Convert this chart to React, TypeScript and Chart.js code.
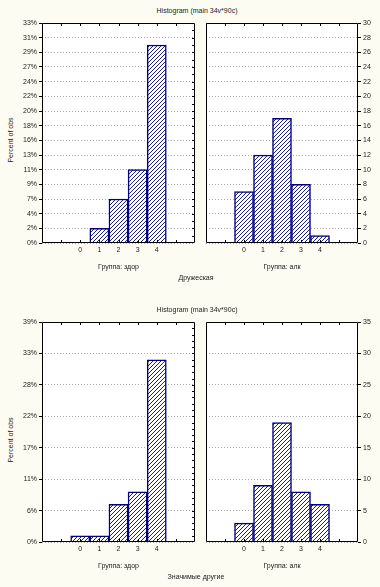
import React, { useEffect, useRef } from "react";
import { Chart, registerables } from "chart.js";

Chart.register(...registerables);

// ---- data ----
const bins = [0, 1, 2, 3, 4];
const friendlyHealthy = [0, 2, 6, 10, 27];
const friendlyAlc = [7, 12, 17, 8, 1];
const significantHealthy = [1, 1, 6, 8, 29];
const significantAlc = [3, 9, 19, 8, 6];
const totalObs = 90;
const topMax = 30;
const topStep = 2;
const bottomMax = 35;
const bottomStep = 5;
const chartTitle = "Histogram (main 34v*90c)";
const yAxisTitle = "Percent of obs";
const groupLabels = ["Группа: здор", "Группа: алк"];
const figureLabels = ["Дружеская", "Значимые другие"];
const xMin = -2;
const xMax = 6;

const FONT = "'Liberation Sans', Arial, sans-serif";
const TEXT = "#222";
const NAVY = "#000080";

function makeHatch(): CanvasPattern | string {
  const s = 4;
  const c = document.createElement("canvas");
  c.width = s;
  c.height = s;
  const g = c.getContext("2d");
  if (!g) return "#fff";
  g.fillStyle = "#fff";
  g.fillRect(0, 0, s, s);
  g.fillStyle = "#20208a";
  for (let i = 0; i < s; i++) g.fillRect(i, s - 1 - i, 1, 1);
  return g.createPattern(c, "repeat") || "#fff";
}

type PanelProps = {
  values: number[];
  side: "left" | "right";
  max: number;
  step: number;
  top: number;
  bottom: number;
};

const PAD_TOP = 8;
const X_AXIS_H = 30;

function Panel({ values, side, max, step, top, bottom }: PanelProps) {
  const ref = useRef<HTMLCanvasElement | null>(null);
  const canvasLeft = side === "left" ? 0 : 200;
  const canvasWidth = side === "left" ? 200 : 180;
  const canvasTop = top - PAD_TOP;
  const canvasHeight = bottom - top + PAD_TOP + X_AXIS_H;

  useEffect(() => {
    if (!ref.current) return;
    const hatch = makeHatch();
    const framePlugin = {
      id: "frame",
      beforeDraw(chart: any) {
        const { ctx, chartArea } = chart;
        ctx.save();
        ctx.fillStyle = "#ffffff";
        ctx.fillRect(chartArea.left, chartArea.top, chartArea.right - chartArea.left, chartArea.bottom - chartArea.top);
        ctx.restore();
      },
      afterDraw(chart: any) {
        const { ctx, chartArea, scales } = chart;
        const { left, right, top: t, bottom: b } = chartArea;
        ctx.save();
        ctx.strokeStyle = "#000";
        ctx.lineWidth = 1;
        ctx.beginPath();
        ctx.rect(left + 0.5, t + 0.5, right - left - 1, b - t - 1);
        ctx.stroke();
        ctx.beginPath();
        for (let v = xMin + 1; v < xMax; v++) {
          const px = Math.round(scales.x.getPixelForValue(v)) + 0.5;
          ctx.moveTo(px, t);
          ctx.lineTo(px, t + 3);
          ctx.moveTo(px, b);
          ctx.lineTo(px, b - 3);
        }
        if (side === "left") {
          for (let v = 1; v < max; v++) {
            const py = Math.round(scales.y.getPixelForValue(v)) + 0.5;
            ctx.moveTo(right, py);
            ctx.lineTo(right - 3, py);
          }
        }
        ctx.stroke();
        ctx.restore();
      },
    };

    const chart = new Chart(ref.current, {
      type: "bar",
      data: {
        datasets: [
          {
            data: bins.map((b, i) => ({ x: b, y: values[i] > 0 ? values[i] : null })) as any,
            backgroundColor: hatch as any,
            borderColor: NAVY,
            borderWidth: 1.5,
            barPercentage: 1,
            categoryPercentage: 1,
          },
        ],
      },
      options: {
        animation: false,
        responsive: false,
        maintainAspectRatio: false,
        devicePixelRatio: 1,
        layout: {
          padding: side === "left" ? { left: 0, right: 5, top: PAD_TOP, bottom: 0 } : { left: 6, right: 0, top: PAD_TOP, bottom: 0 },
        },
        plugins: { legend: { display: false }, tooltip: { enabled: false }, title: { display: false } },
        scales: {
          x: {
            type: "linear",
            min: xMin,
            max: xMax,
            offset: false,
            grid: { display: false, drawTicks: false },
            border: { display: false },
            ticks: {
              stepSize: 1,
              autoSkip: false,
              maxRotation: 0,
              padding: 3,
              color: TEXT,
              font: { family: FONT, size: 7 },
              callback: (v: any) => (bins.includes(Number(v)) ? String(v) : ""),
            },
            afterFit: (s: any) => {
              s.height = X_AXIS_H;
            },
          },
          y: {
            type: "linear",
            position: side,
            min: 0,
            max,
            grid: {
              color: "#a8a8a8",
              lineWidth: 1,
              drawTicks: true,
              tickLength: 3,
              tickColor: "#000",
              tickBorderDash: [],
            } as any,
            border: { display: false, dash: [1, 2] },
            ticks: {
              stepSize: step,
              padding: 2,
              color: TEXT,
              font: { family: FONT, size: 7 },
              callback: (v: any) => (side === "left" ? Math.round((Number(v) / totalObs) * 100) + "%" : String(v)),
            },
            afterFit: (s: any) => {
              s.width = side === "left" ? 42 : 22;
            },
          },
        },
      } as any,
      plugins: [framePlugin],
    });
    return () => chart.destroy();
  }, [values, side, max, step, top, bottom]);

  return (
    <canvas
      ref={ref}
      width={canvasWidth}
      height={canvasHeight}
      style={{ position: "absolute", left: canvasLeft, top: canvasTop, width: canvasWidth, height: canvasHeight }}
    />
  );
}

function Label({ text, x, y, rotate }: { text: string; x: number; y: number; rotate?: boolean }) {
  return (
    <div
      style={{
        position: "absolute",
        left: x,
        top: y,
        transform: `translate(-50%, -50%)${rotate ? " rotate(-90deg)" : ""}`,
        whiteSpace: "nowrap",
        fontFamily: FONT,
        fontSize: 7,
        color: TEXT,
        lineHeight: 1,
      }}
    >
      {text}
    </div>
  );
}

export default function App() {
  const figures = [
    { top: 23, bottom: 243, max: topMax, step: topStep, healthy: friendlyHealthy, alc: friendlyAlc, label: figureLabels[0], titleY: 10, yTitleY: 140, figLabelY: 277 },
    { top: 322, bottom: 542, max: bottomMax, step: bottomStep, healthy: significantHealthy, alc: significantAlc, label: figureLabels[1], titleY: 309, yTitleY: 440, figLabelY: 576 },
  ];
  return (
    <div style={{ position: "absolute", left: 0, top: 0, width: 380, height: 587, background: "#fcfcf3", overflow: "hidden" }}>
      {figures.map((f, i) => (
        <React.Fragment key={i}>
          <Label text={chartTitle} x={197} y={f.titleY} />
          <Label text={yAxisTitle} x={10} y={f.yTitleY} rotate />
          <Panel values={f.healthy} side="left" max={f.max} step={f.step} top={f.top} bottom={f.bottom} />
          <Panel values={f.alc} side="right" max={f.max} step={f.step} top={f.top} bottom={f.bottom} />
          <Label text={groupLabels[0]} x={118.5} y={f.bottom + 23} />
          <Label text={groupLabels[1]} x={282} y={f.bottom + 23} />
          <Label text={f.label} x={196} y={f.figLabelY} />
        </React.Fragment>
      ))}
    </div>
  );
}
